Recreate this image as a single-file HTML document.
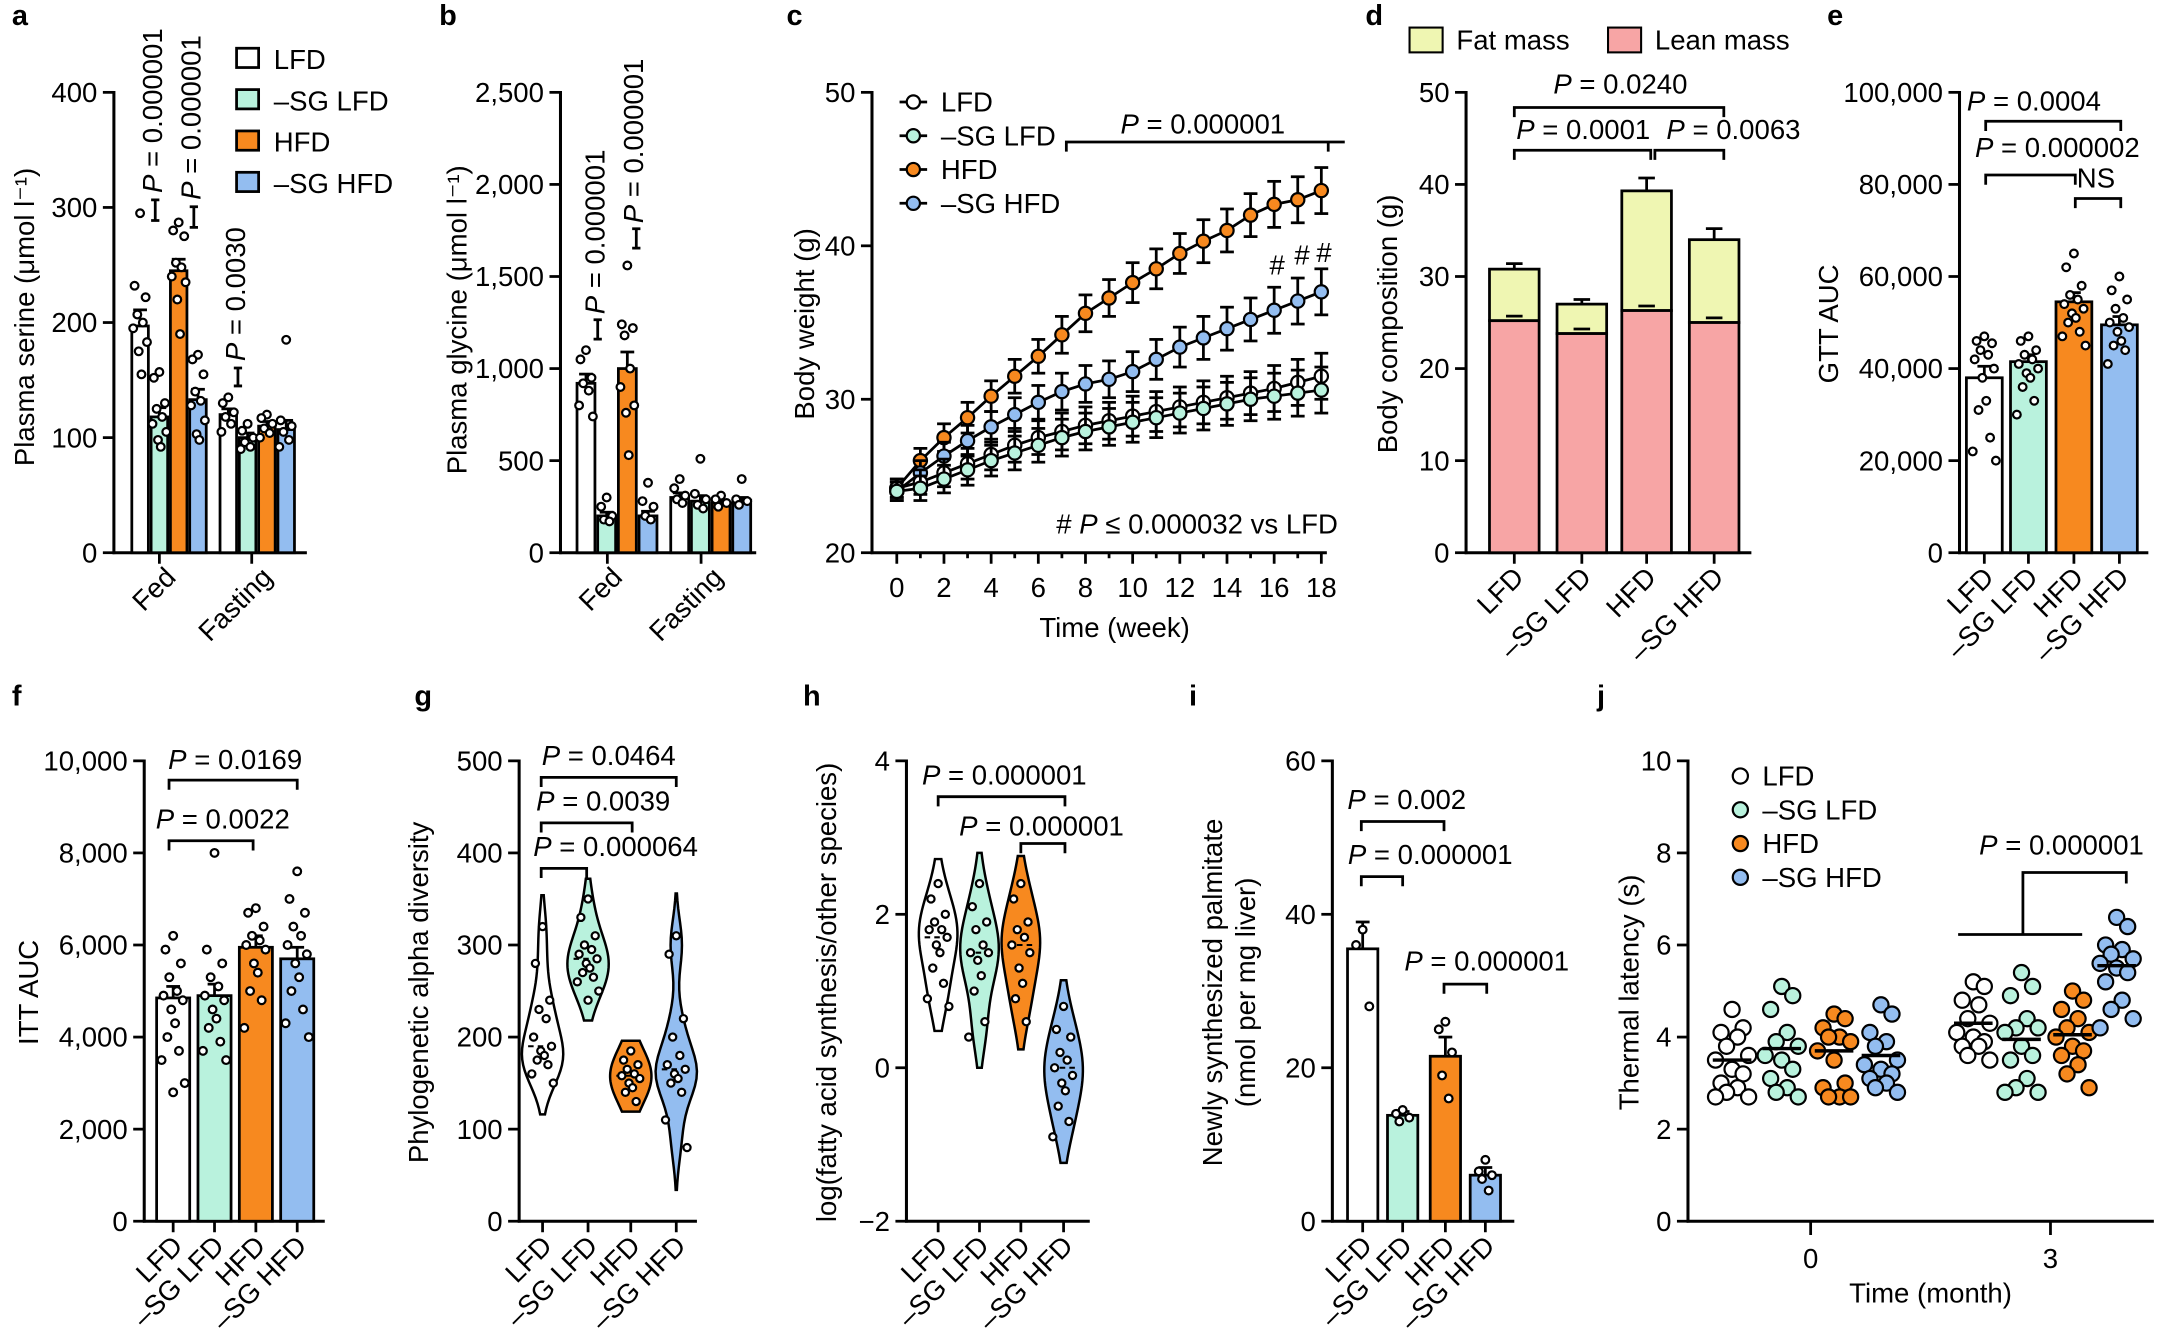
<!DOCTYPE html>
<html><head><meta charset="utf-8"><style>
html,body{margin:0;padding:0;background:#fff;}
svg{display:block;font-family:"Liberation Sans",Arial,sans-serif;}
</style></head><body>
<svg id="fig" width="2163" height="1337" viewBox="0 0 1568 970" xmlns="http://www.w3.org/2000/svg"></svg>
<script>
// ---------- data ----------
const groups=['LFD','–SG LFD','HFD','–SG HFD'];
const colors=['#ffffff','#b9f2dd','#f7891f','#93bdf0'];
const aMeans=[197,118,245,133,120,100,110,107];
const aSem=[14,8,10,9,5,4,4,8];
const aPts=[[295,232,222,207,200,195,183,175,155],[157,152,130,125,118,112,105,98,92],[287,280,275,252,248,240,235,220,190],[172,168,155,140,132,128,115,103,98],[135,130,122,118,112,105],[112,106,100,96,92,90],[120,117,112,108,104,100],[185,115,110,105,98,92]];
const bMeans=[920,200,1000,200,300,280,270,285];
const bSem=[50,20,90,25,25,30,15,15];
const bPts=[[1100,1050,950,920,880,800,740],[300,250,200,180,170],[1560,1240,1220,1180,1000,900,800,760,530],[380,280,250,200,180],[400,350,310,290,270],[510,320,290,260,240],[310,290,270,250],[400,290,280,260]];
const weeks=[0,1,2,3,4,5,6,7,8,9,10,11,12,13,14,15,16,17,18];
const cLFD=[24.2,24.6,25.2,25.8,26.4,27.0,27.5,27.9,28.3,28.6,28.9,29.2,29.5,29.8,30.1,30.4,30.7,31.1,31.5];
const cSGLFD=[24.0,24.2,24.8,25.4,26.0,26.5,27.0,27.5,27.9,28.2,28.5,28.8,29.1,29.4,29.7,30.0,30.2,30.4,30.6];
const cHFD=[24.2,26.0,27.5,28.8,30.2,31.5,32.8,34.2,35.6,36.6,37.6,38.5,39.5,40.3,41.0,42.0,42.7,43.0,43.6];
const cSGHFD=[24.0,25.2,26.3,27.3,28.2,29.0,29.8,30.5,31.0,31.3,31.8,32.6,33.4,34.0,34.6,35.2,35.8,36.4,37.0];
const cErr=[0.6,0.8,0.9,1.0,1.0,1.1,1.1,1.2,1.2,1.2,1.3,1.3,1.3,1.4,1.4,1.4,1.5,1.5,1.5];
const dLean=[25.2,23.8,26.3,25.0];
const dTotal=[30.8,27.0,39.3,34.0];
const dErr=[0.6,0.5,1.4,1.2];
const eMeans=[38000,41500,54500,49500];
const eSem=[2500,1500,2000,1800];
const ePts=[[47000,46000,45500,44000,43000,42000,40000,38000,33000,31000,25000,22000,20000],[47000,46000,44000,43000,42000,41000,40000,39000,38000,36000,33000,30000],[65000,62000,58000,56000,55000,54000,53000,52000,51000,50000,48000,47000,45000],[60000,57000,55000,53000,51000,50000,49000,48000,46000,45000,44000,41000]];
const fMeans=[4850,4900,5950,5700];
const fSem=[250,250,250,250];
const fPts=[[6200,5900,5600,5300,5000,4900,4800,4600,4300,4000,3700,3500,3000,2800],[8000,5900,5600,5300,5100,4900,4800,4600,4400,4200,3900,3700,3500],[6800,6700,6400,6200,6100,6000,5900,5600,5400,5000,4800,4200],[7600,7000,6700,6400,6200,6000,5800,5600,5300,5000,4600,4300,4000]];
const gPts=[[320,280,240,230,220,200,190,185,180,175,170,160,150],[350,330,310,300,295,290,285,280,275,270,265,260,250,240],[185,175,170,165,160,158,155,150,145,140,130],[310,290,220,200,180,170,165,160,155,150,140,110,80]];
const hPts=[[2.4,2.2,2.0,1.9,1.8,1.8,1.7,1.6,1.5,1.3,1.1,0.9,0.8],[2.4,2.1,1.9,1.8,1.6,1.5,1.5,1.4,1.2,1.0,0.6,0.4],[2.4,2.2,1.9,1.8,1.7,1.6,1.5,1.3,1.1,0.9,0.6],[0.8,0.5,0.4,0.2,0.1,0,-0.1,-0.2,-0.3,-0.5,-0.7,-0.9]];
const iMeans=[35.5,13.8,21.5,6.0];
const iSem=[3.5,0.5,2.5,1.0];
const iPts=[[38,36,28],[14.5,14,13.5,13],[26,25,22,19,16],[8,6.5,6,5.5,4]];
const jPts=[[4.6,4.2,4.1,4.0,3.8,3.6,3.5,3.3,3.2,3.0,2.9,2.8,2.7,2.7],[5.1,4.9,4.6,4.1,3.9,3.8,3.6,3.5,3.3,3.1,2.9,2.8,2.7],[4.5,4.4,4.2,4.0,4.0,3.9,3.7,3.5,3.0,2.9,2.7,2.7,2.7],[4.7,4.5,4.1,3.9,3.8,3.5,3.4,3.3,3.2,3.1,3.0,2.9,2.8],[5.2,5.1,4.8,4.7,4.4,4.3,4.1,4.0,3.9,3.8,3.8,3.6,3.5],[5.4,5.1,4.9,4.4,4.2,4.2,4.1,3.8,3.6,3.5,3.1,2.9,2.8,2.8],[5.0,4.8,4.6,4.4,4.2,4.1,4.0,3.8,3.7,3.6,3.4,3.2,2.9],[6.6,6.4,6.0,5.9,5.8,5.7,5.6,5.5,5.4,5.2,4.8,4.6,4.4,4.2]];
const jMeans=[3.5,3.75,3.7,3.6,4.3,3.95,4.05,5.55];

// ---------- helpers ----------
const NS='http://www.w3.org/2000/svg';
const svg=document.getElementById('fig');
function mk(tag,a,name){const e=document.createElementNS(NS,tag);for(const k in a)e.setAttribute(k,a[k]);


svg.appendChild(e);return e;}
function T(x,y,s,name,o){o=o||{};const e=mk('text',{x:x,y:y,'font-size':o.fs||20,'text-anchor':o.a||'middle','font-weight':o.w||'normal','font-style':o.it?'italic':'normal',transform:o.r?('rotate('+o.r+' '+x+' '+y+')'):''},name);e.textContent=s;return e;}
function PT(x,y,s,name,o){o=o||{};const e=mk('text',{x:x,y:y,'font-size':o.fs||20,'text-anchor':o.a||'middle',transform:o.r?('rotate('+o.r+' '+x+' '+y+')'):''},name);
const t1=document.createElementNS(NS,'tspan');t1.setAttribute('font-style','italic');t1.textContent='P';e.appendChild(t1);
const t2=document.createElementNS(NS,'tspan');t2.textContent=' = '+s;e.appendChild(t2);return e;}
function L(x1,y1,x2,y2,name,w){return mk('line',{x1:x1,y1:y1,x2:x2,y2:y2,stroke:'#000','stroke-width':w||2},name);}
function P(d,name,w){return mk('path',{d:d,fill:'none',stroke:'#000','stroke-width':w||2},name);}
function sc(v0,v1,p0,p1){return function(v){return p0+(v-v0)/(v1-v0)*(p1-p0);};}
function yAxis(x,yb,yt,v0,v1,ticks,labels,name){const s=sc(v0,v1,yb,yt);L(x,yb+1,x,yt-1,name+'-line',2.2);
ticks.forEach(function(t,i){L(x-8,s(t),x,s(t),name+'-tick');T(x-12,s(t)+7,labels[i],name+'-label',{a:'end'});});return s;}
function catLabels(xs,y,name){groups.forEach(function(g,i){T(xs[i]+8,y,g,name,{a:'end',r:-45});});}
function dot(x,y,fill,r,name){return mk('circle',{cx:x,cy:y,r:r,fill:fill,stroke:'#000','stroke-width':1.6},name);}
const jit=[0,-4,4,-2,2,-5,5,-1,1,-3,3,-6,6,0];
function bar(x,w,y,v,sem,col,name){const y0=y(0);
const r=mk('rect',{x:x,y:y(v),width:w,height:y0-y(v),fill:col,stroke:'#000','stroke-width':2},name);
L(x+w/2,y(v),x+w/2,y(v+sem),name+'-error');L(x+w/2-5,y(v+sem),x+w/2+5,y(v+sem),name+'-error-cap');return r;}
function bracket(x1,x2,y,name){P('M'+x1+' '+(y+7)+'V'+y+'H'+x2+'V'+(y+7),name);}

// ---------- panel letters ----------
[['a',8,18],['b',318,18],['c',570,18],['d',990,18],['e',1325,18],['f',8,512],['g',300,512],['h',582,512],['i',862,512],['j',1158,512]].forEach(function(p){T(p[1],p[2],p[0],'panel-label-'+p[0],{a:'start',w:'bold',fs:21});});

// ---------- panel a ----------
(function(){const y=yAxis(82,401,67,0,400,[0,100,200,300,400],['0','100','200','300','400'],'a-y-axis');
L(81,401,222,401,'a-x-axis',2.2);L(115,401,115,409,'a-x-tick');L(182,401,182,409,'a-x-tick');
const xs=[95,109,123,137,159,173,187,201];
aMeans.forEach(function(v,i){bar(xs[i],12,y,v,aSem[i],colors[i%4],'a-bar-'+i);
aPts[i].forEach(function(p,k){dot(xs[i]+6+jit[k],y(p),'#fff',2.8,'a-point');});});
T(128,420,'Fed','a-x-label',{a:'end',r:-45});T(198,420,'Fasting','a-x-label',{a:'end',r:-45});
T(24,230,'Plasma serine (μmol l⁻¹)','a-y-axis-title',{r:-90});
P('M112 145V160M109 145H115M109 160H115','a-sig-bracket',2);PT(117,140,'0.000001','a-p-value',{a:'start',r:-90});
P('M140 150V165M137 150H143M137 165H143','a-sig-bracket',2);PT(145,145,'0.000001','a-p-value',{a:'start',r:-90});
P('M172 267V280M169 267H175M169 280H175','a-sig-bracket',2);PT(177,262,'0.0030','a-p-value',{a:'start',r:-90});
groups.forEach(function(g,i){mk('rect',{x:171,y:35+i*30,width:16,height:14,fill:colors[i],stroke:'#000','stroke-width':2},'a-legend-swatch');T(198,50+i*30,g,'a-legend-entry',{a:'start'});});
})();

// ---------- panel b ----------
(function(){const y=yAxis(406,401,67,0,2500,[0,500,1000,1500,2000,2500],['0','500','1,000','1,500','2,000','2,500'],'b-y-axis');
L(405,401,548,401,'b-x-axis',2.2);L(440,401,440,409,'b-x-tick');L(508,401,508,409,'b-x-tick');
const xs=[418,433,448,463,486,501,516,531];
bMeans.forEach(function(v,i){bar(xs[i],13,y,v,bSem[i],colors[i%4],'b-bar-'+i);
bPts[i].forEach(function(p,k){dot(xs[i]+6.5+jit[k],y(p),'#fff',2.8,'b-point');});});
T(452,420,'Fed','b-x-label',{a:'end',r:-45});T(525,420,'Fasting','b-x-label',{a:'end',r:-45});
T(338,232,'Plasma glycine (μmol l⁻¹)','b-y-axis-title',{r:-90});
P('M433 232V246M430 232H436M430 246H436','b-sig-bracket',2);PT(438,228,'0.000001','b-p-value',{a:'start',r:-90});
P('M461 166V180M458 166H464M458 180H464','b-sig-bracket',2);PT(466,162,'0.000001','b-p-value',{a:'start',r:-90});
})();

// ---------- panel c ----------
(function(){const y=yAxis(632,401,67,20,50,[20,30,40,50],['20','30','40','50'],'c-y-axis');
const x=sc(0,18,650,958);L(631,401,962,401,'c-x-axis',2.2);
weeks.forEach(function(w){L(x(w),401,x(w),(w%2?405:409),'c-x-tick');if(w%2===0)T(x(w),433,String(w),'c-x-label');});
T(808,462,'Time (week)','c-x-axis-title');T(590,235,'Body weight (g)','c-y-axis-title',{r:-90});
const series=[[cHFD,colors[2],'hfd'],[cSGHFD,colors[3],'sg-hfd'],[cLFD,colors[0],'lfd'],[cSGLFD,colors[1],'sg-lfd']];
series.forEach(function(s){const d=s[0];
d.forEach(function(v,i){L(x(weeks[i]),y(v-cErr[i]),x(weeks[i]),y(v+cErr[i]),'c-error-bar');L(x(weeks[i])-5,y(v+cErr[i]),x(weeks[i])+5,y(v+cErr[i]),'c-error-cap');L(x(weeks[i])-5,y(v-cErr[i]),x(weeks[i])+5,y(v-cErr[i]),'c-error-cap');});
mk('polyline',{points:d.map(function(v,i){return x(weeks[i])+','+y(v);}).join(' '),fill:'none',stroke:'#000','stroke-width':2},'c-line-'+s[2]);
d.forEach(function(v,i){dot(x(weeks[i]),y(v),s[1],4.8,'c-point-'+s[2]);});});
groups.forEach(function(g,i){L(652,74+i*24.5,672,74+i*24.5,'c-legend-line');dot(662,74+i*24.5,colors[i],4.8,'c-legend-marker');T(682,81+i*24.5,g,'c-legend-entry',{a:'start'});});
PT(872,97,'0.000001','c-p-value');P('M773 110V103H963V110M963 103H975','c-sig-bracket');
T(926,199,'#','c-hash');T(944,192,'#','c-hash');T(960,190,'#','c-hash');
const t=mk('text',{x:970,y:387,'font-size':20,'text-anchor':'end'},'c-footnote');t.innerHTML='# <tspan font-style="italic">P</tspan> ≤ 0.000032 vs LFD';
})();

// ---------- panel d ----------
(function(){const y=yAxis(1063,401,67,0,50,[0,10,20,30,40,50],['0','10','20','30','40','50'],'d-y-axis');
L(1062,401,1270,401,'d-x-axis',2.2);
const xs=[1080,1129,1176,1225];
dLean.forEach(function(v,i){L(xs[i]+18,401,xs[i]+18,409,'d-x-tick');
mk('rect',{x:xs[i],y:y(dTotal[i]),width:36,height:y(v)-y(dTotal[i]),fill:'#eff6b2',stroke:'#000','stroke-width':2},'d-bar-fat-'+i);
mk('rect',{x:xs[i],y:y(v),width:36,height:y(0)-y(v),fill:'#f7a5a5',stroke:'#000','stroke-width':2},'d-bar-lean-'+i);
L(xs[i]+18,y(dTotal[i]),xs[i]+18,y(dTotal[i]+dErr[i]),'d-error');L(xs[i]+12,y(dTotal[i]+dErr[i]),xs[i]+24,y(dTotal[i]+dErr[i]),'d-error-cap');
L(xs[i]+12,y(v+0.5),xs[i]+24,y(v+0.5),'d-error-cap');});
catLabels(xs.map(function(v){return v+18;}),420,'d-x-label');
T(1013,235,'Body composition (g)','d-y-axis-title',{r:-90});
mk('rect',{x:1022,y:20,width:24,height:18,fill:'#eff6b2',stroke:'#000','stroke-width':1.5},'d-legend-swatch');T(1056,36,'Fat mass','d-legend-entry',{a:'start'});
mk('rect',{x:1166,y:20,width:24,height:18,fill:'#f7a5a5',stroke:'#000','stroke-width':1.5},'d-legend-swatch');T(1200,36,'Lean mass','d-legend-entry',{a:'start'});
PT(1175,68,'0.0240','d-p-value');bracket(1098,1250,78,'d-sig-bracket');
PT(1148,101,'0.0001','d-p-value');bracket(1098,1197,109,'d-sig-bracket');
PT(1257,101,'0.0063','d-p-value');bracket(1200,1250,109,'d-sig-bracket');
})();

// ---------- panel e ----------
(function(){const y=yAxis(1421,401,67,0,100000,[0,20000,40000,60000,80000,100000],['0','20,000','40,000','60,000','80,000','100,000'],'e-y-axis');
L(1420,401,1558,401,'e-x-axis',2.2);
const xs=[1426,1458,1491,1524];
eMeans.forEach(function(v,i){L(xs[i]+13,401,xs[i]+13,409,'e-x-tick');bar(xs[i],26,y,v,eSem[i],colors[i],'e-bar-'+i);
ePts[i].forEach(function(p,k){dot(xs[i]+13+jit[k]*1.4,y(p),'#fff',2.8,'e-point');});});
catLabels(xs.map(function(v){return v+13;}),420,'e-x-label');
T(1333,235,'GTT AUC','e-y-axis-title',{r:-90});
PT(1475,80,'0.0004','e-p-value');bracket(1440,1538,88,'e-sig-bracket');
PT(1492,114,'0.000002','e-p-value');bracket(1440,1505,127,'e-sig-bracket');
T(1520,136,'NS','e-ns-label');bracket(1505,1538,144,'e-ns-bracket');
})();

// ---------- panel f ----------
(function(){const y=yAxis(104,886,552,0,10000,[0,2000,4000,6000,8000,10000],['0','2,000','4,000','6,000','8,000','10,000'],'f-y-axis');
L(103,886,235,886,'f-x-axis',2.2);
const xs=[113,143,173,203];
fMeans.forEach(function(v,i){L(xs[i]+12,886,xs[i]+12,894,'f-x-tick');bar(xs[i],24,y,v,fSem[i],colors[i],'f-bar-'+i);
fPts[i].forEach(function(p,k){dot(xs[i]+12+jit[k]*1.4,y(p),'#fff',2.8,'f-point');});});
catLabels(xs.map(function(v){return v+12;}),905,'f-x-label');
T(27,720,'ITT AUC','f-y-axis-title',{r:-90});
PT(170,558,'0.0169','f-p-value');bracket(122,215,566,'f-sig-bracket');
PT(161,601,'0.0022','f-p-value');bracket(122,183,610,'f-sig-bracket');
})();

// ---------- violin helper ----------
function violin(pts,cx,y,col,hw,bw,name){const mn=Math.min.apply(null,pts),mx=Math.max.apply(null,pts),rg=mx-mn;
const lo=mn-rg*0.2,hi=mx+rg*0.2,N=40,dens=[];
for(let i=0;i<=N;i++){const v=lo+(hi-lo)*i/N;let d=0;pts.forEach(function(p){d+=Math.exp(-0.5*Math.pow((v-p)/bw,2));});dens.push([v,d]);}
const dm=Math.max.apply(null,dens.map(function(d){return d[1];}));
let s='';dens.forEach(function(d,i){s+=(i?'L':'M')+(cx+d[1]/dm*hw)+' '+y(d[0]);});
for(let i=N;i>=0;i--){s+='L'+(cx-dens[i][1]/dm*hw)+' '+y(dens[i][0]);}
mk('path',{d:s+'Z',fill:col,stroke:'#000','stroke-width':1.8},name);
const srt=pts.slice().sort(function(a,b){return a-b;});const med=srt[Math.floor(srt.length/2)];
L(cx-hw*0.7,y(med),cx+hw*0.7,y(med),name+'-median',1.5).setAttribute('stroke-dasharray','4 3');
pts.forEach(function(p,k){dot(cx+jit[k]*1.3,y(p),'#fff',2.6,name+'-point');});}

// ---------- panel g ----------
(function(){const y=yAxis(376,886,552,0,500,[0,100,200,300,400,500],['0','100','200','300','400','500'],'g-y-axis');
L(375,886,505,886,'g-x-axis',2.2);
const xs=[393,426,457,490];
gPts.forEach(function(p,i){L(xs[i],886,xs[i],894,'g-x-tick');violin(p,xs[i],y,colors[i],15,25,'g-violin-'+i);});
catLabels(xs,905,'g-x-label');
T(310,720,'Phylogenetic alpha diversity','g-y-axis-title',{r:-90});
PT(441,555,'0.0464','g-p-value');bracket(392,490,564,'g-sig-bracket');
PT(437,588,'0.0039','g-p-value');bracket(392,458,597,'g-sig-bracket');
PT(446,621,'0.000064','g-p-value');bracket(392,425,630,'g-sig-bracket');
})();

// ---------- panel h ----------
(function(){const y=yAxis(657,886,552,-2,4,[-2,0,2,4],['−2','0','2','4'],'h-y-axis');
L(656,886,790,886,'h-x-axis',2.2);
const xs=[680,710,740,771];
hPts.forEach(function(p,i){L(xs[i],886,xs[i],894,'h-x-tick');violin(p,xs[i],y,colors[i],14,0.35,'h-violin-'+i);});
catLabels(xs,905,'h-x-label');
T(606,720,'log(fatty acid synthesis/other species)','h-y-axis-title',{r:-90});
PT(728,569,'0.000001','h-p-value');bracket(680,772,578,'h-sig-bracket');
PT(755,606,'0.000001','h-p-value');bracket(740,772,612,'h-sig-bracket');
})();

// ---------- panel i ----------
(function(){const y=yAxis(966,886,552,0,60,[0,20,40,60],['0','20','40','60'],'i-y-axis');
L(965,886,1098,886,'i-x-axis',2.2);
const xs=[977,1006,1037,1066];
iMeans.forEach(function(v,i){L(xs[i]+11,886,xs[i]+11,894,'i-x-tick');bar(xs[i],22,y,v,iSem[i],colors[i],'i-bar-'+i);
iPts[i].forEach(function(p,k){dot(xs[i]+11+jit[k]*1.2,y(p),'#fff',2.8,'i-point');});});
catLabels(xs.map(function(v){return v+11;}),905,'i-x-label');
T(886,720,'Newly synthesized palmitate','i-y-axis-title',{r:-90});T(910,720,'(nmol per mg liver)','i-y-axis-title',{r:-90});
PT(1020,587,'0.002','i-p-value');bracket(987,1047,596,'i-sig-bracket');
PT(1037,627,'0.000001','i-p-value');bracket(987,1017,636,'i-sig-bracket');
PT(1078,704,'0.000001','i-p-value');bracket(1047,1078,714,'i-sig-bracket');
})();

// ---------- panel j ----------
(function(){const y=yAxis(1224,886,552,0,10,[0,2,4,6,8,10],['0','2','4','6','8','10'],'j-y-axis');
L(1223,886,1562,886,'j-x-axis',2.2);L(1313,886,1313,896,'j-x-tick');L(1487,886,1487,896,'j-x-tick');
T(1313,920,'0','j-x-label');T(1487,920,'3','j-x-label');T(1400,945,'Time (month)','j-x-axis-title');
T(1188,720,'Thermal latency (s)','j-y-axis-title',{r:-90});
const xs=[1256,1292,1330,1364,1431,1466,1503,1535];
const off=[0,10,-10,5,-5,15,-15,0,10,-10,5,-5,15,-15];
jPts.forEach(function(p,i){p.forEach(function(v,k){dot(xs[i]+off[k]*0.8,y(v),colors[i%4],5.5,'j-point-'+i);});
L(xs[i]-14,y(jMeans[i]),xs[i]+14,y(jMeans[i]),'j-mean-'+i,2.5);});
groups.forEach(function(g,i){dot(1262,563+i*24.5,colors[i],5.5,'j-legend-marker');T(1278,570+i*24.5,g,'j-legend-entry',{a:'start'});});
PT(1495,620,'0.000001','j-p-value');P('M1420 678H1510M1467 678V633H1542V641','j-sig-bracket');
})();
</script>
</body></html>
